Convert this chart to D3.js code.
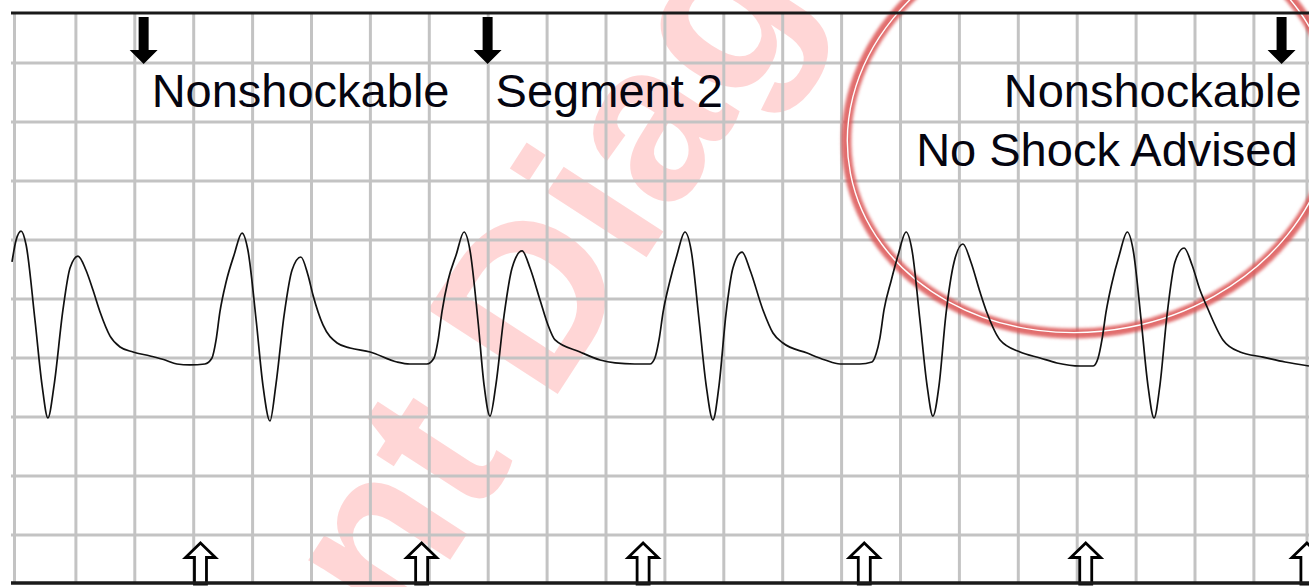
<!DOCTYPE html>
<html>
<head>
<meta charset="utf-8">
<script src="https://d3js.org/d3.v7.min.js"></script>
<style>
  html, body { margin: 0; padding: 0; background: #fff; overflow: hidden; }
  svg { display: block; }
</style>
</head>
<body>
<div id="container"></div>
<script>
var width = 1309, height = 587;

// ECG trace: time (s) and amplitude (mV), 0.2 s and 0.5 mV per grid box
var ecgT = [-0.017, -0.003, 0.014, 0.031, 0.061, 0.085, 0.105, 0.126, 0.156, 0.180, 0.207, 0.234, 0.258, 0.282, 0.316, 0.350, 0.394, 0.452, 0.503, 0.543, 0.587, 0.638, 0.662, 0.676, 0.689, 0.710, 0.737,
  0.764, 0.784, 0.812, 0.835, 0.859, 0.879, 0.907, 0.934, 0.964, 0.988, 1.005, 1.039, 1.087, 1.131, 1.199, 1.290, 1.334, 1.392, 1.416, 1.430, 1.443, 1.464, 1.491,
  1.518, 1.538, 1.565, 1.586, 1.606, 1.626, 1.654, 1.681, 1.715, 1.742, 1.776, 1.803, 1.827, 1.912, 1.980, 2.031, 2.098, 2.149, 2.166, 2.180, 2.194, 2.217, 2.241,
  2.268, 2.289, 2.316, 2.340, 2.363, 2.384, 2.407, 2.431, 2.462, 2.489, 2.533, 2.567, 2.601, 2.683, 2.744, 2.795, 2.862, 2.903, 2.917, 2.930, 2.944, 2.968, 2.992,
  3.019, 3.039, 3.066, 3.090, 3.110, 3.131, 3.154, 3.182, 3.212, 3.239, 3.270, 3.294, 3.338, 3.406, 3.474, 3.531, 3.610, 3.654, 3.671, 3.684, 3.698, 3.718, 3.743,
  3.770, 3.790, 3.817, 3.840, 3.861, 3.881, 3.905, 3.932, 3.963, 3.990, 4.017, 4.041, 4.095, 4.153, 4.231, 4.306, 4.387];
var ecgMv = [0.814, 1.000, 1.076, 0.958, 0.322, -0.229, -0.508, -0.229, 0.407, 0.763, 0.864, 0.746, 0.576, 0.390, 0.186, 0.093, 0.051, 0.017, -0.017, -0.051, -0.059, -0.051, 0.000, 0.153, 0.390, 0.644, 0.873,
  1.059, 0.915, 0.322, -0.229, -0.534, -0.229, 0.364, 0.746, 0.856, 0.703, 0.534, 0.280, 0.127, 0.085, 0.051, -0.034, -0.051, -0.051, 0.000, 0.153, 0.390, 0.661, 0.873,
  1.068, 0.915, 0.322, -0.229, -0.492, -0.229, 0.364, 0.763, 0.907, 0.763, 0.492, 0.280, 0.153, 0.051, -0.017, -0.042, -0.051, -0.051, 0.000, 0.153, 0.390, 0.653, 0.873,
  1.068, 0.915, 0.322, -0.229, -0.525, -0.229, 0.364, 0.763, 0.898, 0.746, 0.407, 0.212, 0.127, 0.042, -0.017, -0.051, -0.051, -0.034, 0.034, 0.169, 0.407, 0.653, 0.873,
  1.068, 0.915, 0.322, -0.229, -0.492, -0.229, 0.364, 0.814, 0.966, 0.814, 0.559, 0.381, 0.153, 0.051, 0.000, -0.042, -0.068, -0.068, 0.000, 0.153, 0.390, 0.636, 0.873,
  1.068, 0.915, 0.322, -0.229, -0.508, -0.229, 0.364, 0.814, 0.932, 0.788, 0.576, 0.432, 0.153, 0.051, 0.008, -0.034, -0.068];

// analysis markers (s)
var analysisT = [0.430, 1.598, 4.294];
var beatT = [0.623, 1.374, 2.126, 2.877, 3.629, 4.380];

// labels
var topLabels = ["Nonshockable", "Segment 2"];
var resultLabels = ["Nonshockable", "No Shock Advised"];
var watermark = "Patient Diagnosis";

// grid ticks
var timeTicks = d3.range(0.2, 4.21, 0.2);
var mvTicks = d3.range(-1.5, 2.51, 0.5);

var x = d3.scaleLinear().domain([0, 4.4]).range([17, 17 + 4.4 * 294.5]);
var y = d3.scaleLinear().domain([-2, 3]).range([594, 4]);

var svg = d3.select('#container')
  .append('svg')
  .attr('width', width)
  .attr('height', height)
  .style('background-color', 'white');

var stripLeft = 11, stripTop = y(2.924), stripBottom = y(-1.907);

var defs = svg.append('defs');
defs.append('filter').attr('id', 'glow')
  .attr('x', '-20%').attr('y', '-20%').attr('width', '140%').attr('height', '140%')
  .append('feGaussianBlur').attr('stdDeviation', 1.6);
defs.append('clipPath').attr('id', 'strip')
  .append('rect').attr('x', stripLeft).attr('y', stripTop)
  .attr('width', width - stripLeft).attr('height', stripBottom - stripTop);

// watermark
svg.append('text')
  .attr('transform', 'translate(388,548) rotate(-57)')
  .attr('x', -2.695 * 225)
  .attr('y', 0.26 * 225)
  .style('font-family', 'Liberation Sans, Arial, sans-serif')
  .style('font-weight', 'bold')
  .style('font-size', '225px')
  .style('fill', '#ff0000')
  .style('fill-opacity', 0.16)
  .text(watermark);

// grid
var grid = svg.append('g').attr('clip-path', 'url(#strip)')
  .style('stroke', '#c3c3c3').style('stroke-width', 3);
grid.selectAll('line.v').data(timeTicks).enter().append('line')
  .attr('class', 'v')
  .attr('x1', d => x(d)).attr('x2', d => x(d))
  .attr('y1', stripTop).attr('y2', stripBottom);
grid.append('line').attr('x1', 14.5).attr('x2', 14.5).attr('y1', stripTop).attr('y2', stripBottom);
grid.append('line').attr('x1', 1307).attr('x2', 1307).attr('y1', stripTop).attr('y2', stripBottom);
grid.selectAll('line.h').data(mvTicks).enter().append('line')
  .attr('class', 'h')
  .attr('x1', stripLeft).attr('x2', width)
  .attr('y1', d => y(d)).attr('y2', d => y(d));

// labels
var font = 'Liberation Sans, Arial, sans-serif';
svg.selectAll('text.top').data(topLabels).enter().append('text')
  .attr('class', 'top')
  .attr('x', (d, i) => x(analysisT[i]) + 8)
  .attr('y', y(2.124))
  .style('font-family', font).style('font-size', '47px').style('fill', '#050510')
  .text(d => d);
svg.selectAll('text.res').data(resultLabels).enter().append('text')
  .attr('class', 'res')
  .attr('text-anchor', 'end')
  .attr('x', (d, i) => x(analysisT[2]) + 20 - i * 4)
  .attr('y', (d, i) => y(2.124) + i * 59)
  .style('font-family', font).style('font-size', '47px').style('fill', '#050510')
  .text(d => d);

// red ring
var ring = svg.append('g').attr('transform', 'translate(1090,127) rotate(-11)');
ring.append('ellipse').attr('rx', 245).attr('ry', 205)
  .style('fill', 'none').style('stroke', '#dc5454').style('stroke-width', 10)
  .style('stroke-opacity', 0.85).attr('filter', 'url(#glow)');
ring.append('ellipse').attr('rx', 244).attr('ry', 204)
  .style('fill', 'none').style('stroke', '#fff').style('stroke-width', 1.4);

// trace
var pts = ecgT.map((t, i) => [t, ecgMv[i]]);
var line = d3.line().x(d => x(d[0])).y(d => y(d[1])).curve(d3.curveMonotoneX);
svg.append('path').datum(pts)
  .attr('clip-path', 'url(#strip)')
  .attr('d', line)
  .style('fill', 'none').style('stroke', '#111').style('stroke-width', 1.7);

// analysis arrows (filled, pointing down)
svg.selectAll('path.down').data(analysisT).enter().append('path')
  .attr('class', 'down')
  .attr('transform', d => 'translate(' + x(d) + ',0)')
  .attr('d', 'M-5,17 L5,17 L5,50 L14,50 L0,64 L-14,50 L-5,50 Z')
  .style('fill', '#000');

// beat arrows (hollow, pointing up)
svg.selectAll('path.up').data(beatT).enter().append('path')
  .attr('class', 'up')
  .attr('transform', d => 'translate(' + x(d) + ',0)')
  .attr('d', 'M0,543 L15,557.5 L6,557.5 L6,584 L-6,584 L-6,557.5 L-15,557.5 Z')
  .style('fill', '#fff').style('stroke', '#000').style('stroke-width', 2.8)
  .style('stroke-linejoin', 'miter');

// strip borders
svg.append('line').attr('x1', stripLeft).attr('x2', width).attr('y1', stripTop).attr('y2', stripTop)
  .style('stroke', '#1a1a1a').style('stroke-width', 3);
svg.append('line').attr('x1', stripLeft).attr('x2', width).attr('y1', stripBottom).attr('y2', stripBottom)
  .style('stroke', '#1a1a1a').style('stroke-width', 3.5);
</script>
</body>
</html>
